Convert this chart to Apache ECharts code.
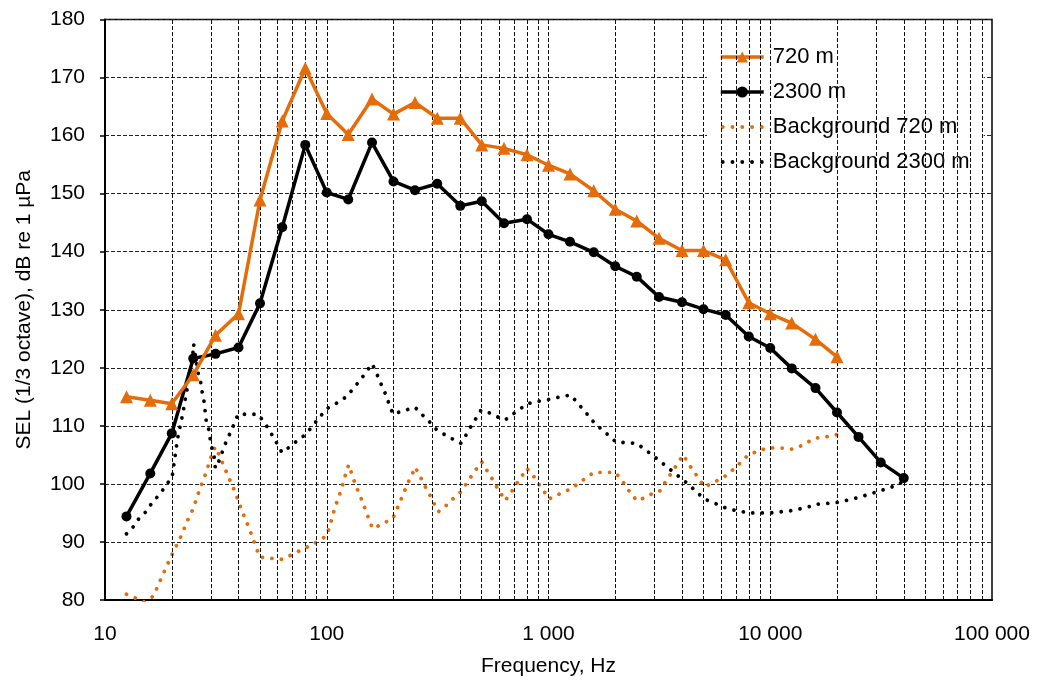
<!DOCTYPE html>
<html>
<head>
<meta charset="utf-8">
<script src="https://cdn.jsdelivr.net/npm/echarts@6/dist/echarts.min.js"></script>
<style>html,body{margin:0;padding:0;background:#fff}#c{width:1039px;height:684px}</style>
</head>
<body>
<div id="c"></div>
<script>
// 1/3-octave band centre frequencies (Hz)
const freq720 = [12.5,16,20,25,31.5,40,50,63,80,100,125,160,200,250,315,400,500,630,800,1000,1250,1600,2000,2500,3150,4000,5000,6300,8000,10000,12500,16000,20000];
const sel720 = [115.0,114.4,113.8,118.8,125.6,129.3,148.9,162.5,171.6,163.8,160.2,166.3,163.7,165.7,163.0,163.0,158.4,157.8,156.7,154.9,153.4,150.5,147.3,145.3,142.3,140.2,140.2,138.6,131.2,129.3,127.7,124.9,121.9];
const freq2300 = [12.5,16,20,25,31.5,40,50,63,80,100,125,160,200,250,315,400,500,630,800,1000,1250,1600,2000,2500,3150,4000,5000,6300,8000,10000,12500,16000,20000,25000,31500,40000];
const sel2300 = [94.4,101.8,108.7,121.6,122.4,123.5,131.1,144.2,158.4,150.2,149.0,158.8,152.1,150.6,151.7,147.9,148.7,144.9,145.6,143.0,141.7,139.9,137.5,135.7,132.2,131.3,130.1,129.1,125.4,123.4,119.9,116.5,112.3,108.1,103.7,101.0];

// Background spectra (finer resolution)
const bgFreq720 = [12.5,13.8,15.0,16.6,17.2,18.7,20.1,21.9,23.7,24.9,26.7,28.6,30.4,31.4,32.9,35.5,38.5,41.2,44.5,47.6,49.8,55.3,62.4,68.7,75.5,86.7,99.5,103,108.6,116.3,122.5,125.6,133.7,144.3,155,161,176,199,215.6,232.4,244,250,263,274.5,289,302,318.5,344,370,402,427.6,450,477.5,500,526,554.6,583.6,615,636.6,675.5,711,751.6,797.7,854,899,955,1005,1096,1200,1260,1362,1476,1603,1778,1995,2138,2265,2411,2499,2742,2990,3182,3350,3556,3758,3985,4053,4270,4530,4786,5043,5536,6040,6310,6808,7358,7965,8840,9800,11070,12500,13870,15110,16080,17850,19600,20000];
const bg720 = [81.0,80.3,79.7,80.7,82.2,85.3,87.9,90.8,93.9,95.6,99.0,102.0,105.2,106.4,104.8,101.8,98.7,95.6,92.5,89.5,87.4,87.2,87.0,87.7,88.5,89.6,91.0,92.6,95.8,99.0,102.1,103.3,100.2,97.1,93.9,92.3,93.0,94.1,97.2,100.2,101.8,102.9,101.4,99.9,98.4,96.9,95.2,96.2,97.4,98.6,100.1,101.4,102.8,103.8,102.4,101.0,99.5,98.1,97.1,98.4,99.8,101.1,102.7,101.4,100.1,98.7,97.4,98.1,98.8,99.1,100.1,101.0,102.0,102.0,102.0,100.7,99.2,97.9,97.1,97.7,98.5,98.8,100.2,101.7,103.1,104.6,105.0,103.5,102.1,100.8,99.5,100.2,101.0,101.4,102.5,103.7,105.0,105.7,106.2,106.2,106.0,106.6,107.4,107.9,108.1,108.4,108.5];
const bgFreq2300 = [12.5,13.4,14.2,15.3,15.9,16.9,18.1,19.2,20.05,20.6,21.2,21.6,22.1,22.5,22.9,23.3,24.1,24.9,25.1,26.25,27.0,27.4,27.96,28.6,29.4,29.85,30.4,31.2,31.45,32.9,33.8,35.2,36.7,38.2,39.8,44.2,49,49.8,52.5,55.3,58.2,60.9,62.8,68.1,73.4,79.6,85.2,90.6,96.2,99.5,108.6,118.4,124.7,132.7,141.7,150.8,160,167.3,173.8,181.3,187.6,194.2,199.6,220.6,241.6,250,268,289,305.5,318.5,347.6,378.6,401.8,424.6,447,471,496,544.8,599.8,636.6,689.5,743.8,802.5,890.3,991,1100,1208,1260,1340,1426,1527,1609,1738,1875,2016,2236,2499,2704,2938,3182,3434,3720,4012,4345,4690,5043,5536,6040,6363,7005,8045,8928,9975,11180,12500,13950,15480,16080,17790,19940,22270,25220,27870,31260,34910,38460,40000];
const bg2300 = [91.4,92.6,94.0,95.2,96.2,97.4,98.8,100.2,101.0,104.2,107.6,109.2,110.9,112.4,114.1,115.7,119.2,122.5,124.1,119.2,117.5,115.9,114.2,110.9,109.3,107.6,106.0,104.3,102.7,104.2,105.5,107.3,108.8,110.3,112.0,112.0,112.0,112.0,110.5,109.1,107.7,106.3,105.4,106.4,107.4,108.4,109.7,111.0,112.2,112.9,113.7,114.6,115.3,116.6,117.9,119.3,120.7,119.2,117.6,116.1,114.6,113.0,112.0,112.6,113.0,113.2,112.0,110.8,109.7,109.1,108.3,107.5,107.0,108.4,109.9,111.3,112.7,112.2,111.4,111.0,112.0,112.9,113.8,114.2,114.5,114.9,115.2,115.3,114.1,112.9,111.6,110.5,109.4,108.3,107.2,107.1,107.0,106.0,105.0,103.9,102.9,101.8,100.8,99.7,98.5,97.4,96.8,96.1,95.8,95.4,95.0,95.0,95.0,95.2,95.4,95.8,96.2,96.5,96.6,96.8,97.2,97.7,98.2,98.8,99.4,100.0,100.8];

const xTickLabels = {10:'10',100:'100',1000:'1 000',10000:'10 000',100000:'100 000'};
const seriesNames = ['720 m','2300 m','Background 720 m','Background 2300 m'];

const ORANGE = '#E46C0A';
const FONT = 'Liberation Sans, Arial, sans-serif';
// five round dots, used as the legend icon of the dotted series
const DOTS_ICON = 'path://M0,2a2,2 0 1,0 4,0a2,2 0 1,0 -4,0ZM10,2a2,2 0 1,0 4,0a2,2 0 1,0 -4,0ZM20,2a2,2 0 1,0 4,0a2,2 0 1,0 -4,0ZM30,2a2,2 0 1,0 4,0a2,2 0 1,0 -4,0ZM40,2a2,2 0 1,0 4,0a2,2 0 1,0 -4,0Z';

function pairs(xs, ys){ return xs.map((x,i)=>[x, ys[i]]); }

// vertical log grid positions (1..9 x decade), excluding the plot edges
const vGrid = [];
[10,100,1000,10000].forEach(d => { for (let m=1;m<=9;m++){ const v=d*m; if (v>10 && v<100000) vGrid.push({xAxis:v}); } });

const chart = echarts.init(document.getElementById('c'), null, {renderer:'canvas'});
chart.setOption({
  animation:false,
  backgroundColor:'#fff',
  textStyle:{fontFamily:FONT},
  grid:{left:105,right:47,top:19.5,bottom:84,show:true,borderColor:'#000',borderWidth:1.5,backgroundColor:'transparent'},
  legend:{
    data:[
      {name:seriesNames[0]},
      {name:seriesNames[1]},
      {name:seriesNames[2], icon:DOTS_ICON},
      {name:seriesNames[3], icon:DOTS_ICON}
    ],
    orient:'vertical', left:707, top:40,
    backgroundColor:'#fff', padding:[6,14,8,12], itemGap:13,
    itemWidth:43, itemHeight:14, symbolKeepAspect:true,
    lineStyle:{width:3.5},
    textStyle:{fontFamily:FONT,fontSize:22,color:'#000',padding:[0,0,0,4]}
  },
  xAxis:{
    type:'log', logBase:10, min:10, max:100000,
    name:'Frequency, Hz', nameLocation:'middle', nameGap:56,
    nameTextStyle:{fontFamily:FONT,fontSize:21,color:'#000'},
    axisLine:{show:true,lineStyle:{color:'#000',width:2}},
    axisTick:{show:false},
    splitLine:{show:false},
    axisLabel:{fontFamily:FONT,fontSize:21,color:'#000',margin:24,formatter:v=>xTickLabels[Math.round(v)]||''}
  },
  yAxis:{
    type:'value', min:80, max:180, interval:10,
    name:'SEL (1/3 octave), dB re 1 µPa', nameLocation:'middle', nameGap:70,
    nameTextStyle:{fontFamily:FONT,fontSize:21,color:'#000'},
    axisLine:{show:true,lineStyle:{color:'#000',width:2}},
    axisTick:{show:true,inside:false,length:5,lineStyle:{color:'#000',width:1.5}},
    splitLine:{show:true,lineStyle:{color:'#222',width:1,type:[4,2]}},
    axisLabel:{fontFamily:FONT,fontSize:21,color:'#000',margin:20}
  },
  series:[
    {name:'_grid', type:'line', data:[], z:1, silent:true,
     markLine:{silent:true, symbol:'none', label:{show:false}, animation:false,
       lineStyle:{color:'#111',width:1,type:[4,2]}, emphasis:{disabled:true}, data:vGrid}},
    {name:'Background 720 m', type:'line', data:pairs(bgFreq720,bg720), symbol:'none', z:3,
     lineStyle:{color:ORANGE,width:3.8,type:[0.01,9.5],cap:'round',join:'round'}, itemStyle:{color:ORANGE}},
    {name:'Background 2300 m', type:'line', data:pairs(bgFreq2300,bg2300), symbol:'none', z:3,
     lineStyle:{color:'#000',width:3.8,type:[0.01,9.5],cap:'round',join:'round'}, itemStyle:{color:'#000'}},
    {name:'2300 m', type:'line', data:pairs(freq2300,sel2300), symbol:'circle', symbolSize:10, z:4,
     lineStyle:{color:'#000',width:3.5}, itemStyle:{color:'#000'}},
    {name:'720 m', type:'line', data:pairs(freq720,sel720), symbol:'triangle', symbolSize:13, z:5,
     lineStyle:{color:ORANGE,width:3.5}, itemStyle:{color:ORANGE}}
  ]
});
</script>
</body>
</html>
